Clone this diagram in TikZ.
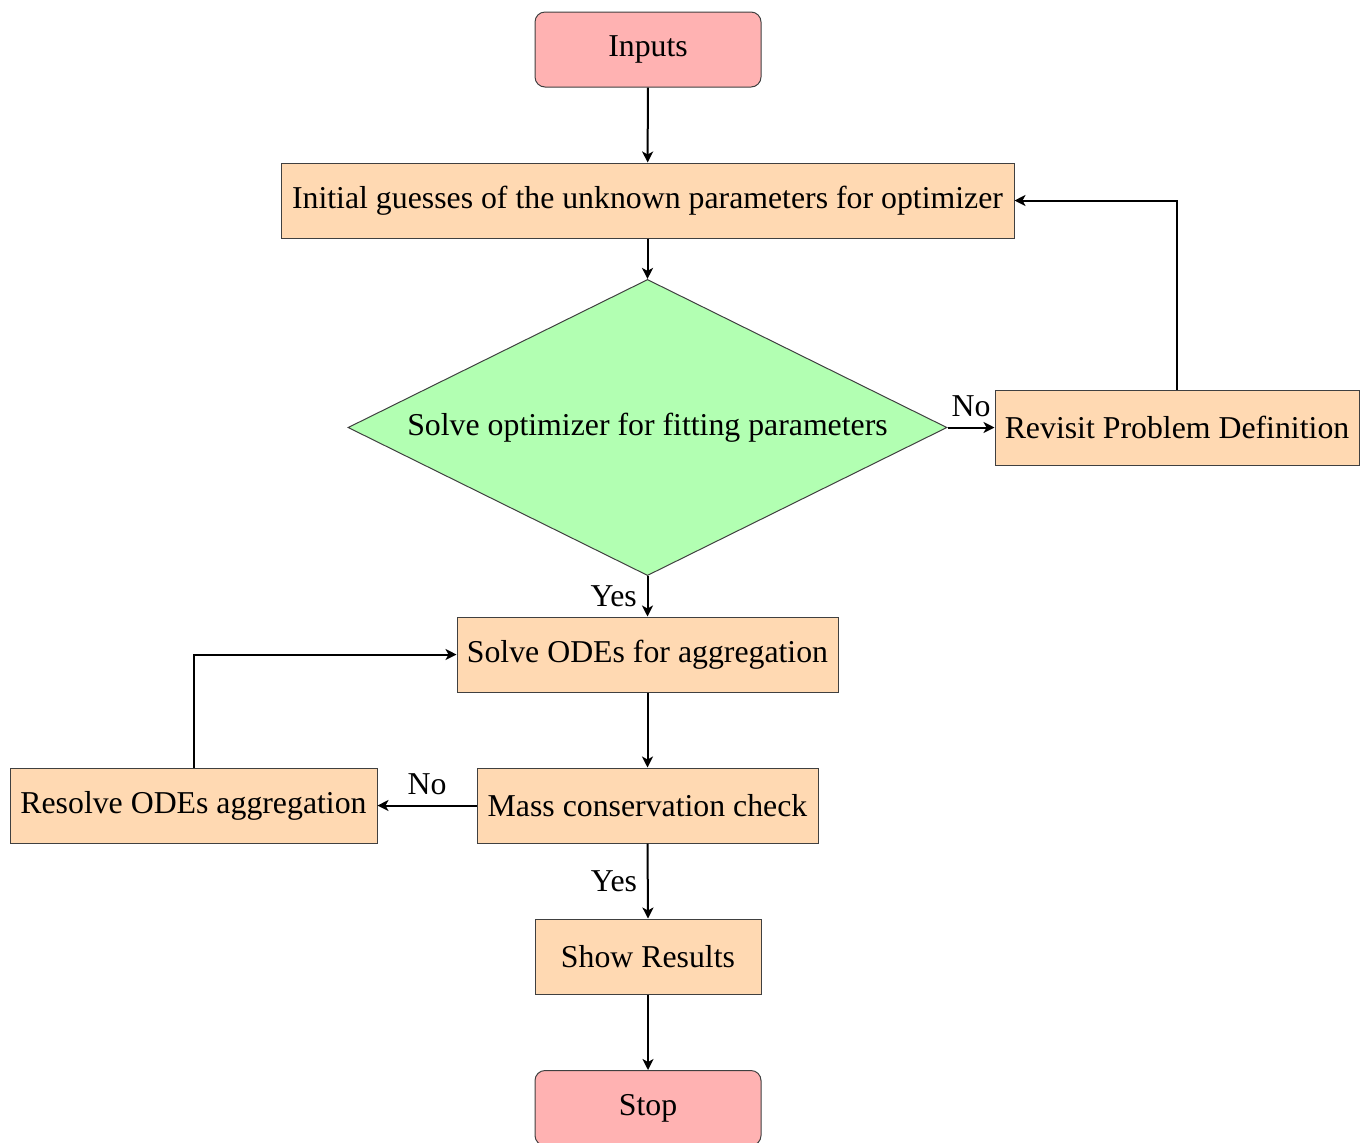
\documentclass[tikz,border=0pt]{standalone}
\usepackage{fontspec}
\setmainfont{Liberation Serif}
\usetikzlibrary{shapes.geometric,arrows.meta}
\begin{document}
\begin{tikzpicture}[x=0.5pt,y=-0.5pt,
  font=\fontsize{15.9}{18}\selectfont,
  term/.style={draw=black!75,line width=0.5pt,fill=red!30,rounded corners=5pt,minimum width=113pt,minimum height=37.5pt,inner sep=0pt},
  proc/.style={draw=black!75,line width=0.5pt,fill=orange!30,minimum height=37.5pt,inner sep=0pt},
  dec/.style={draw=black!75,line width=0.5pt,fill=green!30,diamond,shape aspect=1.8,minimum width=299.5pt,inner sep=0pt},
  arr/.style={line width=1pt,-{Stealth[length=5.5pt,width=5.5pt,inset=1.5pt]}},
  lblL/.style={left,xshift=-1.5pt},
  lblA/.style={above,yshift=1.5pt}]
\useasboundingbox (0,0) rectangle (1368,1142);
\node[term] (inputs) at (648,49.5) {Inputs};
\node[proc,minimum width=366.5pt] (init) at (647.5,200.5) {Initial guesses of the unknown parameters for optimizer};
\node[dec] (opt) at (647.5,427.5) {Solve optimizer for fitting parameters};
\node[proc,minimum width=182pt] (rev) at (1177,427.5) {Revisit Problem Definition};
\node[proc,minimum width=190.5pt] (ode) at (647.5,654.5) {Solve ODEs for aggregation};
\node[proc,minimum width=170.5pt] (mass) at (647.5,805.5) {Mass conservation check};
\node[proc,minimum width=183.5pt] (res) at (193.5,805.5) {Resolve ODEs aggregation};
\node[proc,minimum width=113pt] (show) at (648,956.5) {Show Results};
\node[term] (stop) at (648,1108) {Stop};
\draw[arr] (inputs) -- (init);
\draw[arr] (init) -- (opt);
\draw[arr] (opt.south) -- node[lblL] {Yes} (ode.north);
\draw[arr] (opt.east) -- node[lblA] {No} (rev.west);
\draw[arr] (rev.north) |- (init.east);
\draw[arr] (ode) -- (mass);
\draw[arr] (mass.west) -- node[lblA] {No} (res.east);
\draw[arr] (res.north) |- (ode.west);
\draw[arr] (mass.south) -- node[lblL] {Yes} (show.north);
\draw[arr] (show) -- (stop);
\end{tikzpicture}
\end{document}
